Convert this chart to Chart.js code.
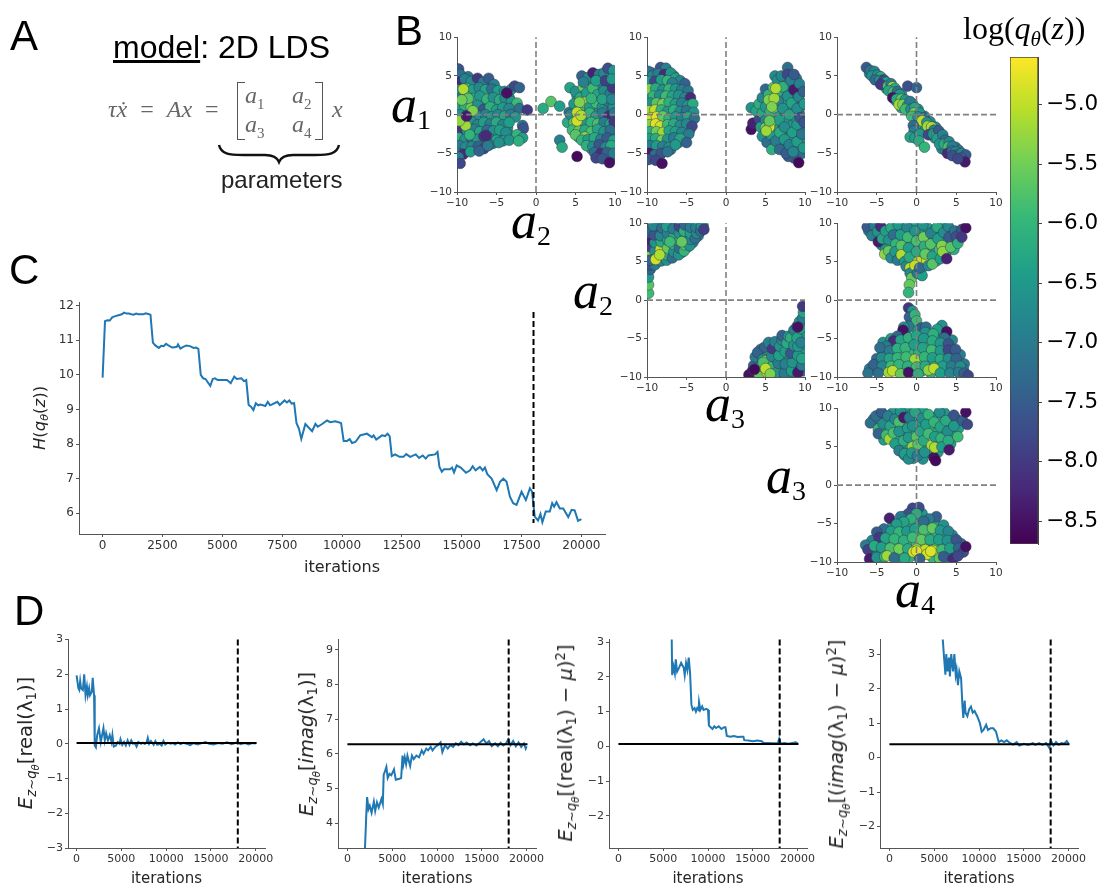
<!DOCTYPE html>
<html>
<head>
<meta charset="utf-8">
<title>2D LDS</title>
<script src="https://cdn.jsdelivr.net/npm/chart.js@4"></script>
<style>
  html, body { margin: 0; padding: 0; background: #fff; }
  #page { position: relative; width: 1102px; height: 886px; overflow: hidden; filter: blur(0.3px); }
  canvas { position: absolute; }
  .t { position: absolute; white-space: nowrap; line-height: 1; color: #000; }
  .letter { font: 42px/1 'Liberation Sans', sans-serif; }
  .sans { font-family: 'Liberation Sans', sans-serif; }
  .big { font: italic 52px/1 'Liberation Serif', serif; }
  .big span { font: 28px/1 'Liberation Serif', serif; position: relative; top: 7px; }
  .ylab { font-family: 'DejaVu Sans', sans-serif; color: #262626; transform: translate(-50%, -50%) rotate(-90deg); }
  .ylab sub { font-size: 68%; line-height: 0; vertical-align: -0.3em; }
  .ylab sub sub { font-size: 76%; }
  .ylab sup { font-size: 68%; line-height: 0; vertical-align: 0.55em; }
  .eq { font: 24px/1 'Liberation Serif', serif; color: #666; }
  .eq sub { font-size: 15px; line-height: 0; font-style: normal; }
</style>
</head>
<body>
<div id="page">
  <canvas id="s12"></canvas><canvas id="s13"></canvas><canvas id="s14"></canvas>
  <canvas id="s32"></canvas><canvas id="s42"></canvas><canvas id="s43"></canvas>
  <canvas id="cbar"></canvas><canvas id="entropy"></canvas>
  <canvas id="d1"></canvas><canvas id="d2"></canvas><canvas id="d3"></canvas><canvas id="d4"></canvas>

  <div class="t letter" style="left:10px;top:15px">A</div>
  <div class="t letter" style="left:395px;top:10px">B</div>
  <div class="t letter" style="left:9px;top:249px">C</div>
  <div class="t letter" style="left:14px;top:590px">D</div>

  <div class="t sans" style="left:113px;top:31px;font-size:32px"><u>model</u>: 2D LDS</div>
  <div class="t eq" style="left:108px;top:97px;word-spacing:7px"><i>τẋ</i> = <i>Ax</i> =</div>
  <div style="position:absolute;left:237px;top:82px;width:7px;height:56px;border:1px solid #555;border-right:0"></div>
  <div style="position:absolute;left:315px;top:82px;width:7px;height:56px;border:1px solid #555;border-left:0"></div>
  <div class="t eq" style="left:245px;top:83px"><i>a</i><sub>1</sub></div>
  <div class="t eq" style="left:292px;top:83px"><i>a</i><sub>2</sub></div>
  <div class="t eq" style="left:245px;top:112px"><i>a</i><sub>3</sub></div>
  <div class="t eq" style="left:292px;top:112px"><i>a</i><sub>4</sub></div>
  <div class="t eq" style="left:332px;top:97px"><i>x</i></div>
  <svg style="position:absolute;left:215px;top:142px" width="130" height="24">
    <path d="M4 3 C6 12 14 13 28 13 L50 13 C58 13 62 15 64 20 C66 15 70 13 78 13 L100 13 C114 13 122 12 124 3" fill="none" stroke="#111" stroke-width="2.4"/>
  </svg>
  <div class="t sans" style="left:221px;top:168px;font-size:24px;color:#222">parameters</div>

  <div class="t big" style="left:391px;top:79px"><i>a</i><span>1</span></div>
  <div class="t big" style="left:511px;top:195px"><i>a</i><span>2</span></div>
  <div class="t big" style="left:573px;top:265px"><i>a</i><span>2</span></div>
  <div class="t big" style="left:705px;top:378px"><i>a</i><span>3</span></div>
  <div class="t big" style="left:766px;top:450px"><i>a</i><span>3</span></div>
  <div class="t big" style="left:895px;top:564px"><i>a</i><span>4</span></div>

  <div class="t" style="left:963px;top:12px;font:32px/1 'Liberation Serif',serif">log(<i>q<sub style="font-size:21px;line-height:0">θ</sub></i>(<i>z</i>))</div>

  <div class="t ylab" style="left:40px;top:418px;font-size:16.5px"><i>H</i>(<i>q<sub>θ</sub></i>(<i>z</i>))</div>
  <div class="t ylab" style="left:26px;top:743px;font-size:19.5px"><i>E<sub>z∼q<sub>θ</sub></sub></i>[real(λ<sub>1</sub>)]</div>
  <div class="t ylab" style="left:307px;top:744px;font-size:19.5px"><i>E<sub>z∼q<sub>θ</sub></sub></i>[<i>imag</i>(λ<sub>1</sub>)]</div>
  <div class="t ylab" style="left:566px;top:743px;font-size:19.5px"><i>E<sub>z∼q<sub>θ</sub></sub></i>[(real(λ<sub>1</sub>) − <i>μ</i>)<sup>2</sup>]</div>
  <div class="t ylab" style="left:837px;top:744px;font-size:19.5px"><i>E<sub>z∼q<sub>θ</sub></sub></i>[(<i>imag</i>(λ<sub>1</sub>) − <i>μ</i>)<sup>2</sup>]</div>
</div>

<script>
// ===================== DATA =====================
const scatterTicks = [-10, -5, 0, 5, 10];
const zeroSpan = [-10, 10];
const cbarTicks = [-5, -5.5, -6, -6.5, -7, -7.5, -8, -8.5];
const cbarRange = [-8.69, -4.6];
const viridisStops = ['#440154','#482878','#3e4989','#31688e','#26828e','#1f9e89','#35b779','#6ece58','#b5de2b','#fde725'];

// samples: [x, y, log q]
const ptsA2A1 = [
[-9.4,4.9,-6.9],[-8.6,4.9,-7.1],[-7.9,3.9,-6.6],[-7,3,-6.5],[-6,3.8,-6.6],[-5.2,2.8,-6.3],[-4.4,2.5,-6.5],[-3.4,2.2,-6.4],[-9.4,2.8,-6.3],[-8.4,1.6,-6.2],[-7.5,1.7,-6.5],[-6.6,1.5,-6.1],[-5.6,1.6,-6.5],[-4.8,1.3,-6.3],[-3.8,1.4,-6.6],[-2.8,1.2,-6.7],[-9.2,0.5,-6.4],[-8.4,0.4,-6.5],[-7.6,0.5,-6.3],[-6.8,0.2,-6.8],[-6,0.4,-6.5],[-5.2,0.2,-6.3],[-4.4,0.3,-6.7],[-3.6,0.3,-6.5],[-2.8,0.5,-6.8],[-9.3,-0.6,-6.6],[-8.5,-0.5,-6.8],[-7.6,-0.6,-6.4],[-6.8,-0.6,-6.9],[-6,-0.7,-6.5],[-5.2,-0.6,-6.4],[-4.4,-0.6,-6.6],[-3.6,-0.5,-6.4],[-9.3,-1.6,-6.8],[-8.5,-1.5,-6.3],[-7.7,-1.6,-6.6],[-6.9,-1.6,-6.4],[-6,-1.6,-6.7],[-5.2,-1.6,-6.3],[-4.4,-1.6,-6.5],[-3.6,-1.7,-6.6],[-9.2,-2.6,-6.5],[-8.4,-2.6,-6.4],[-7.6,-2.6,-6.8],[-6.8,-2.5,-6.5],[-5.9,-2.6,-6.4],[-5,-2.7,-6.6],[-4.2,-2.8,-6.5],[-3.2,-2.7,-6.4],[-9.3,-3.6,-6.7],[-8.5,-3.7,-6.5],[-7.7,-3.6,-6.4],[-6.9,-3.6,-6.8],[-5.4,-3.7,-6.5],
[5.2,2.4,-6.4],[5.9,2.7,-6.5],[6.8,3.6,-6.6],[7.6,3.2,-6.8],[8.2,3.8,-6.9],[9,3.7,-7.1],[6.4,2,-6.3],[7.3,2.6,-6.4],[8,1.9,-6.6],[8.9,2.4,-6.8],[9.4,1.2,-6.7],[5,0.8,-6.3],[6,0.8,-6.1],[7.2,0.6,-6.3],[8,0.6,-6.5],[8.8,0.6,-6.7],[9.5,0.4,-7],[4.6,-0.6,-6.4],[5.6,-0.6,-6.2],[6.4,-0.6,-6.3],[7.2,-0.6,-6.4],[8,-0.7,-6.5],[8.9,-0.6,-6.7],[9.6,-0.6,-7.3],[5.1,-1.6,-6.1],[5.8,-1.6,-6.1],[6.6,-1.6,-6.2],[7.4,-1.6,-6.1],[8.2,-1.6,-6.6],[9,-1.7,-6.8],[9.7,-1.6,-7.1],[5.4,-2.9,-6.1],[7,-2.7,-6.3],[7.8,-2.6,-6.5],[8.6,-2.7,-6.6],[9.4,-2.6,-6.9],[6.8,-3.7,-6.3],[7.7,-3.6,-6.8],[8.4,-3.7,-7],[9.2,-3.7,-6.9],[7,-4.4,-6.4],[7.8,-4.5,-7],[8.6,-4.6,-7.2],[9.4,-4.6,-7.1],[9,-5.5,-7.7],[9.8,-5.6,-7.4],
[-9.8,5.9,-7.6],[-9.6,5.2,-7.2],[-9.7,4.2,-8.2],[-9,4.6,-6.9],[-8.2,4.3,-6.7],[-7.4,4.7,-8],[-6.7,4.2,-7],[-6,4.7,-7.5],[-5.3,3.9,-6.9],
[-9.8,3.2,-6.5],[-8.8,3.4,-6],[-8,3.2,-6.4],[-7.2,3.5,-6.8],[-6.4,3.2,-6.3],[-5.6,3.3,-7.2],[-4.8,3.1,-6.4],[-4,3,-6.7],[-3.1,3.3,-6.5],[-2.7,3.7,-7.8],[-2.1,3.5,-7.4],[-3.7,2.7,-8.6],
[-9.5,2.2,-7],[-8.7,2.3,-5.9],[-7.9,2.1,-6.2],[-7.1,2.4,-6.5],[-6.2,2,-6],[-5.4,2.2,-6.6],[-4.6,1.9,-6.2],[-3.9,2.1,-6.7],[-3.1,1.7,-6.5],[-2.4,1.5,-5.9],
[-9.8,1,-6.3],[-9,1.1,-6.1],[-8.2,0.9,-5.5],[-7.4,1.2,-6.6],[-6.6,0.7,-7.6],[-5.8,1,-6.1],[-5,0.6,-6.4],[-4.2,0.9,-6.5],[-3.4,0.8,-6.8],[-2.1,0.8,-7.2],[-1.1,0.6,-8],
[-9.6,0,-6.6],[-8.8,-0.1,-7.2],[-8,0.1,-6.3],[-7.2,-0.2,-6.7],[-6.4,0,-6.9],[-5.6,-0.3,-6.5],[-4.8,0,-6.8],[-4,-0.2,-6.3],[-3.2,0,-7],[-2.6,-0.3,-6.6],
[-9.8,-1,-7.5],[-9,-1.1,-5.4],[-8.2,-0.9,-6.6],[-7.4,-1.3,-6.8],[-6.6,-1,-6.4],[-5.8,-1.2,-6.9],[-5,-1,-6.2],[-4.2,-1.3,-6.8],[-3.4,-1,-6.4],[-1.7,-1.4,-7.2],[-1.6,-1.8,-7.6],
[-9.5,-2,-8],[-8.7,-2.1,-6.5],[-7.9,-1.9,-6.9],[-7.1,-2.2,-6.3],[-6.2,-2,-7.3],[-5.4,-2.1,-6.6],[-4.6,-2,-6.4],[-3.8,-2.3,-6.7],[-2.4,-2.6,-6],[-1.7,-3,-6.4],
[-9.8,-3,-6.1],[-9,-3.2,-6.6],[-8.2,-3,-7.2],[-7.4,-3.2,-6.5],[-6.6,-2.8,-8],[-5.8,-3.1,-7],[-5,-3.3,-6.3],[-4.2,-3.4,-6.5],[-3.4,-3.3,-6.6],[-2.2,-3.4,-6.1],
[-9.7,-4,-7],[-8.9,-4.2,-6.7],[-8.1,-4.1,-6.8],[-7.3,-4.1,-7.4],[-6.6,-4.4,-7.8],[-5.9,-3.9,-6.9],[-4.7,-3.6,-6.6],[-9.7,-5.1,-6.8],[-9.2,-5.1,-8.2],[-8.3,-4.8,-6.4],[-7.2,-4.7,-7.4],[-9.8,-5.5,-7],[-9.6,-6.3,-7.8],
[-9.2,3.3,-5.1],[-8.9,-1.4,-5.2],[-9.7,-0.8,-5.3],[-8.6,2.1,-5.7],[-8,0.5,-5.4],[-9.4,1.9,-5.5],[-8.4,-2.6,-6],[-6.1,-4,-7],[-3.7,2.8,-8.5],[-6.3,-2.7,-8.2],[-8.8,-0.2,-8.4],
[0.9,0.8,-6.2],[1.9,1.7,-5.7],[3,1.1,-6.4],[4.3,3.5,-6.3],[3,-3.3,-6.9],[3.3,-4.2,-6.2],[5.2,-5.4,-8.6],[4.2,0.3,-7.1],[4,-1,-6.2],
[5,3,-6.6],[5.6,2.2,-6.2],[6,3.6,-5.5],[6.4,2.8,-6.4],[7.2,3.4,-5.9],[7.8,2.6,-6.3],[8.6,3.1,-6.7],[9.4,2.7,-7],[9.7,3.5,-8],
[5.8,5,-7.4],[6.6,4.8,-6.7],[7.2,5.4,-8.3],[8,5.2,-7],[8.6,5.4,-6.8],[9.1,6,-7.7],[9.8,5.7,-6.6],[7.6,4.4,-6.4],[8.8,4.4,-7.9],[6,4.2,-6.9],[9.6,4.6,-6.5],
[4.8,1.4,-6.5],[5.6,1,-5.9],[6.2,1.6,-5.2],[6.8,1,-6.4],[7.6,1.5,-5.9],[8.4,1,-6.6],[9.2,1.6,-7.2],[9.8,1,-6.6],[5.5,1.6,-5.4],[7,2.1,-6],[8.4,2,-6.3],[9.6,2,-6.8],
[4.4,0,-6.8],[5.2,0.3,-5],[6,-0.2,-6.2],[6.8,0.2,-6],[7.6,-0.2,-6.5],[8.4,0.2,-7],[9.2,-0.2,-8.2],[9.9,0.2,-7.1],
[4.8,-1,-5.7],[5.4,-1,-4.9],[6.2,-1.2,-6.5],[7,-1,-6],[7.8,-1.2,-5.8],[8.6,-1,-7],[9.4,-1.2,-6.4],[9.9,-0.9,-8],
[4.6,-2,-5.9],[5.4,-2.1,-5.6],[6.2,-2,-6.2],[7,-2.2,-5.8],[7.8,-1.9,-6.3],[8.6,-2.2,-6.6],[9.4,-2,-7.2],[5,-2.6,-5.7],[6.2,-2.9,-5.3],
[5.8,-3.3,-6],[6.6,-3.2,-6.4],[7.4,-3,-6.2],[8.2,-3.2,-6.9],[9,-3,-7.5],[9.8,-3.3,-6.4],[6.4,-4,-6.1],[7.2,-4.1,-6.7],[8,-3.9,-7.6],[8.8,-4.2,-6.8],[9.5,-4,-6.2],
[7.4,-4.9,-7.2],[8.2,-5,-8.1],[9,-4.9,-7.4],[9.8,-5,-7],[7.6,-5.6,-7.8],[8.4,-5.7,-7.6],[9.3,-6.2,-8.5],[5.2,-0.8,-4.9],[5.7,-0.1,-5.1]
].map(([x,y,c]) => ({x,y,c}));

const ptsA3A1 = [
[-9.4,5.4,-6.9],[-8.9,4.8,-6.7],[-7.4,4.8,-6.5],[-6.6,5,-6.6],[-6,3.8,-6.5],[-5.4,3.6,-6.6],[-9.4,3.8,-6.3],[-8.5,3.8,-6.4],[-7.6,3.7,-6.3],[-6.8,3.6,-6.4],[-6,2.8,-6.5],[-5,2.7,-6.7],[-4.6,1.7,-6.6],[-9.6,2.6,-6.2],[-8.8,2.8,-6],[-8,2.8,-6.2],[-7.2,2.8,-6.3],[-6.4,2,-6.4],[-5.6,2,-6.5],[-5.1,1.7,-6.5],[-9,1.9,-5.9],[-8.2,1.9,-5.9],[-7.4,1.9,-6.2],[-6.8,1,-6.3],[-6,1,-6.5],[-5.2,0.9,-6.6],[-4.5,0.8,-6.7],[-9.4,1,-5.8],[-8.6,1,-5.8],[-7.8,1,-6],[-9.2,0.1,-5.5],[-8.4,0,-5.7],[-7.6,0.1,-6],[-6.8,0,-6.3],[-6,0,-6.5],[-5.2,0,-6.6],[-4.4,0,-6.6],[-9.2,-0.9,-5.4],[-8.5,-0.8,-5.4],[-7.7,-0.9,-5.8],[-6.9,-0.9,-6.2],[-6.1,-0.8,-6.5],[-5.3,-0.8,-6.7],[-4.5,-0.9,-6.9],[-9.2,-1.8,-5.7],[-8.4,-1.9,-5.5],[-7.6,-1.8,-6],[-6.8,-1.8,-6.3],[-6,-1.8,-6.5],[-5.2,-1.8,-6.7],[-4.6,-2,-6.9],[-9.2,-2.7,-6],[-8.4,-2.8,-5.9],[-7.6,-2.7,-6.3],[-6.8,-2.6,-6.5],[-6,-2.7,-6.5],[-5.3,-2.8,-6.8],[-9.2,-3.6,-6.5],[-8.4,-3.6,-6.4],[-7.6,-3.7,-6.6],[-6.9,-3.6,-6.7],[-6,-3.6,-6.6],[-9.3,-4.6,-7],[-8.6,-4.6,-6.9],[-7.8,-4.5,-7],[-7,-4.5,-7],
[4.6,1,-6.3],[4.8,-0.2,-6.5],[5.3,0.4,-6.2],[5.6,-0.4,-6.4],[5.2,-1,-6.2],[5.3,-2.8,-6.4],[5.6,-3.2,-6.6],[5.2,1.7,-6.2],[5.7,2.9,-6],[6.2,0.2,-6.2],[6.2,-0.6,-6.4],[6.4,-2,-6.3],[6.4,-3.9,-6.6],[6.8,0.4,-6.5],[7,1.6,-6.5],[7,-1.3,-6.5],[7,2.4,-6.4],[7,-3.2,-6.6],[7.2,-4.2,-6.9],[7.6,0.4,-6.4],[7.6,1.6,-6.4],[7.6,3.2,-6.5],[7.6,4.4,-6.8],[7.8,-0.9,-6.5],[7.8,-2.4,-6.5],[8,-3,-6.6],[8.4,0.6,-6.5],[8.4,-1.4,-6.5],[8.4,2.6,-6.5],[8.5,-3.2,-6.6],[8.8,-0.4,-6.6],[8.8,1.7,-6.6],[8.9,3.4,-6.8],[8.9,-2.3,-6.5],[8.9,4.7,-7],[9.2,-4.6,-6.8],[9.3,0.1,-6.8],[9.4,1,-6.7],[9.4,-1.7,-6.8],[9.5,3.1,-7],[9.5,-3.1,-6.7],[9.6,-5,-7.2],[8.6,-5.6,-7.5],[7.9,-5.4,-7.5],
[-9.8,5.6,-7.2],[-9.3,5,-6.8],[-8.3,6.1,-7.6],[-7.6,6,-6.9],[-8.6,5.3,-7],[-7.8,5.2,-8.2],[-7,5.4,-6.6],[-6.4,4.7,-6.3],[-5.8,4.4,-6.8],[-5.2,4,-7.4],[-9.8,4.3,-6.5],[-9,4.3,-7.8],[-8.2,4.5,-6.4],[-7.4,4.4,-6],[-6.8,4.1,-6.9],
[-9.7,3.3,-5.4],[-8.9,3.4,-6.2],[-8,3.2,-6.6],[-7.2,3.3,-6],[-6.4,3.3,-6.5],[-5.6,3.2,-6.9],[-4.8,3.1,-7.1],[-9.2,2.4,-6],[-8.4,2.5,-6.7],[-7.6,2.4,-5.9],[-6.8,2.4,-6.3],[-6,2.5,-6.6],[-5.2,2.2,-6.8],[-4.5,2.2,-8.2],
[-9.6,1.5,-6.6],[-8.8,1.5,-5.7],[-8,1.4,-5.5],[-7.2,1.6,-6.1],[-6.4,1.4,-6.4],[-5.6,1.5,-6.9],[-4.8,1.2,-6.5],[-4.2,1.4,-6.2],[-9.8,0.5,-5.2],[-9,0.6,-5],[-8.2,0.6,-6],[-7.4,0.4,-6.5],[-6.6,0.6,-6.1],[-5.8,0.4,-6.7],[-5,0.5,-7.1],[-4.1,0.3,-6.6],
[-9.5,-0.4,-4.9],[-8.8,-0.3,-4.8],[-8,-0.2,-5.6],[-7.2,-0.5,-6],[-6.4,-0.3,-6.5],[-5.6,-0.4,-6.9],[-4.8,-0.3,-6.3],[-4,-0.5,-7.2],[-9.7,-1.3,-5.4],[-8.9,-1.2,-4.8],[-8.3,-1.5,-4.9],[-7.4,-1.3,-5.9],[-6.6,-1.2,-6.2],[-5.8,-1.4,-6.7],[-5,-1.2,-6.8],[-4.3,-1.5,-7.8],
[-9.6,-2.2,-6.1],[-8.8,-2.2,-5.5],[-8,-2.3,-5.2],[-7.2,-2.1,-6.3],[-6.4,-2.2,-6.4],[-5.6,-2.3,-6.8],[-4.7,-2.5,-7],[-9.7,-3.1,-6.4],[-8.9,-3.1,-6.2],[-8.1,-3.3,-5.5],[-7.4,-3.2,-6.6],[-6.6,-3,-7],[-5.8,-3.1,-6.3],[-5,-3.6,-7.4],
[-9.6,-4,-7],[-8.8,-4,-6.5],[-8,-4.1,-6.9],[-7.2,-4.2,-6.7],[-6.4,-3.9,-6.5],[-9.7,-5,-8.4],[-9,-5.2,-7.2],[-8.2,-5,-7.6],[-7.4,-4.8,-7.1],[-9.8,-5.8,-7.6],[-8.9,-5.9,-7.8],[-8.1,-6.3,-8.5],
[3.2,0.9,-6.6],[3.2,-1.9,-8.5],[3.4,-1.1,-8.3],[3.8,0.5,-6.3],[4.2,1.4,-6.1],[4.2,-0.6,-7.8],[4.4,-1.6,-6.4],[4.6,2.2,-6.8],[4.6,0.2,-6.2],[4.6,-2.8,-6.6],[5,3.3,-7.3],[5,1,-6.5],[5,-0.7,-6.8],[5,-1.7,-5.5],[5.2,-3.6,-7.2],
[5.4,2.6,-6],[5.4,1.9,-5.4],[5.6,0.4,-6],[5.7,-2.6,-6.4],[5.8,-4.5,-6.1],[6,3.5,-5.7],[6,0.9,-5.4],[6,-1.4,-6.4],[6.2,5,-6.7],[6.3,-3.4,-7],[6.5,4.5,-6.7],[6.6,3,-6.2],[6.6,1.7,-6.8],[6.7,-0.7,-6.4],[6.8,-2.3,-6.2],[6.8,-4.5,-7.3],
[7,5,-6.8],[7.2,3.6,-6.1],[7.2,0.8,-6.6],[7.4,-1.6,-6.7],[7.4,-3.2,-6.5],[7.6,-5,-7.5],[7.8,6.1,-7.2],[7.8,5.2,-7.8],[7.8,2.4,-6.6],[8,0,-6.3],[8,-3.9,-6.9],[8.2,4.4,-6.9],[8.3,1.5,-6.3],[8.4,-2.3,-6.4],[8.5,-4.8,-6.8],[8.6,3.2,-8.4],[8.6,5.2,-7.5],
[9,0.8,-6.7],[9,-1.3,-6.5],[9,-3.5,-6.4],[9.2,-6.2,-8.6],[9.2,2.3,-6.8],[9.3,4,-6.9],[9.4,-0.4,-7.6],[9.6,-2.5,-7.1],[9.8,-4.3,-6.5],[9.8,3,-7.4],[9.9,1.4,-6.5],[9.9,-1,-7.6],
[5.6,-1.1,-5.1],[5.5,-1.6,-4.9],[5.1,-2.1,-5.2],[6.1,2.1,-5.2],[6.3,3.4,-5.1],[5.8,1,-5.4],[5.5,-0.8,-5.6]
].map(([x,y,c]) => ({x,y,c}));

const ptsA4A1 = [
[-5.9,5.3,-6.9],[-5.2,4.9,-6.8],[-4.8,4.6,-6.6],[-4.2,4,-6.4],[-3.8,3.4,-6.4],[-3.2,3.2,-6.3],[-2.6,2.5,-6.3],[-1.9,2.7,-6.4],[-1.5,1.5,-6.2],[-2.6,1.8,-6.4],[-1.9,0.9,-6.3],[-1,0.5,-6.4],[-0.5,1.4,-6.5],[0.2,0.7,-6.6],[0.5,-0.6,-6.5],[1,-0.2,-6.7],[0.8,-1.4,-6.4],[1.7,-0.9,-6.7],[1.1,-2,-6.6],[1.8,-2.1,-6.5],[2.4,-1.6,-6.8],[2.3,-3,-6.3],[3,-3.3,-6.2],[3.2,-4.4,-6.6],[3.6,-4.6,-6.7],[4.2,-4.9,-6.8],[4.9,-4.2,-6.9],[5.3,-4.6,-7.1],
[-6.3,6.1,-7.5],[-5.8,5.7,-7.1],[-5.3,5.6,-6.9],[-5.6,5,-6.6],[-4.9,5.1,-6.7],[-4.5,4.9,-6.2],[-5.2,4.5,-7.3],[-4.6,4.4,-6.6],[-4.1,4.5,-7.8],[-3.8,4.2,-6.4],[-4.5,3.9,-8],[-3.6,3.7,-5.8],[-3.2,4,-7],[-3,3.6,-5.2],[-2.7,3.4,-6.2],[-3.5,3.1,-6.3],[-2.9,2.9,-5.8],[-2.4,3,-7.2],[-2.1,2.6,-6.6],[-1.1,3.7,-7.7],[0,3.5,-7.4],
[-3,2.2,-8.5],[-2.5,2,-6.2],[-1.9,2,-5.7],[-1.4,1.9,-6.5],[-2.2,1.3,-5.2],[-1.7,1.3,-5.4],[-1.1,1.2,-6.3],[-0.8,1.7,-7],[-1.4,0.7,-5.9],[-0.7,0.7,-6.7],[-0.2,0.9,-6.3],[-0.3,0.2,-5.4],[0.4,0.2,-6.5],[-0.6,-0.2,-5.9],[0.2,-0.3,-6.6],[0.9,-0.4,-7.2],[0.7,-0.8,-5],
[-0.4,-1.4,-7.3],[-0.3,-2.1,-7],[-0.8,-2.9,-6.3],[-0.2,-3,-6.4],[0.4,-2.5,-6.5],[0.3,-3.4,-6.2],[1,-4.2,-6],
[1.3,-1,-6.6],[1.4,-1.5,-5.2],[1.9,-1.6,-5.1],[2.2,-2,-7],[1.5,-2.6,-7.8],[2.1,-2.5,-6.5],[2.6,-2.5,-5.9],[2.8,-2.1,-7.5],[3.1,-2.9,-5],[2.6,-3.1,-6.4],[3.3,-2.6,-6.9],[3.6,-3.3,-7.2],[2.9,-3.8,-6.6],[3.5,-3.8,-6.2],[4.1,-3.5,-6.8],[4,-4.2,-5.8],[4.5,-4.1,-6.9],
[3.9,-5,-8.2],[4.5,-4.7,-7.2],[4.9,-4.8,-6.9],[5.2,-5.2,-7.3],[5.7,-5,-6.8],[6.2,-5.2,-7.5],[4.5,-5.3,-7.7],[5.6,-5.6,-7.4],[6.1,-6.1,-8.4],[5.2,-5.7,-7.8]
].map(([x,y,c]) => ({x,y,c}));

const ptsA3A2 = [
[-9.4,5.7,-6.3],[-9.4,6.9,-6.6],[-9.4,8,-7],[-9.4,9,-7],[-8.6,6,-6.2],[-8.6,7,-6.4],[-8.6,8,-6.6],[-8.6,9,-6.8],[-8.6,9.8,-6.7],[-7.8,5.5,-6.4],[-7.8,6.4,-6.2],[-7.8,7.3,-6.3],[-7.8,8.2,-6.5],[-7.8,9.2,-6.7],[-7,6,-6.5],[-7,7,-6.4],[-7,8,-6.4],[-7,9,-6.6],[-7,9.8,-6.9],[-6.2,6.4,-6.4],[-6.2,7.3,-6.3],[-6.2,8.2,-6.4],[-6.2,9.2,-6.7],[-5.6,6.2,-6.4],[-5.6,7,-6.3],[-5.6,8.3,-6.4],[-5.5,9.2,-6.6],[-4.9,6.9,-6.4],[-4.9,7.6,-6.4],[-4.9,8.5,-6.5],[-4.9,9.4,-6.8],[-4.2,7.5,-6.7],[-4.2,8.3,-6.7],[-4.2,9.1,-6.7],[-3.5,8.4,-6.9],[-3.5,9.2,-6.9],[-2.9,9.7,-7],
[3.3,-9.7,-7.4],[4,-7.6,-6.9],[4,-8.6,-6.8],[4.4,-6.4,-7.1],[4.4,-7.2,-6.7],[4.7,-9.4,-6.2],[5.2,-6.7,-6.7],[5.3,-7.3,-6.4],[5.6,-6,-6.8],[5.9,-8,-6.2],[6,-9.5,-6.1],[6.2,-6.6,-6.6],[6.2,-7.6,-6.4],[6.3,-8.8,-6.4],[6.7,-5.5,-6.8],[6.9,-6.7,-6.5],[7,-8.6,-6.7],[7,-9.7,-6.8],[7.2,-7.4,-6.4],[7.4,-5.9,-6.4],[7.8,-7.4,-6.6],[7.9,-6.1,-6.4],[7.9,-8.8,-6.8],[8,-9.7,-6.9],[8.3,-5.6,-6.4],[8.6,-7.6,-6.7],[8.8,-8.6,-6.7],[8.8,-6.4,-6.5],[8.6,-4.6,-6.6],[9.2,-8,-6.6],[9.2,-5,-6.5],[9.4,-6.3,-6.5],[9.4,-4.4,-6.5],[9.7,-9.2,-7],[9.7,-6.6,-6.5],[9.8,-3.4,-6.5],[9.8,-4.8,-6.6],[9.6,-7,-6.5],
[-9.8,0.9,-5.9],[-9.8,2,-5.7],[-9.8,3,-6.5],[-9.6,4,-7.4],[-9.7,4.6,-7.6],[-9.8,5.4,-5.8],[-9.7,6.2,-5.4],[-9.7,7,-7.9],[-9.8,7.9,-8.3],[-9.8,8.8,-7.4],[-9,4.6,-7],[-9,5.4,-5],[-9,6.4,-6.7],[-9,7.5,-6.6],[-9.1,8.5,-7.6],[-9.2,9.7,-6.8],
[-8.2,5.1,-6.9],[-8.2,5.8,-5.5],[-8.3,6.6,-5],[-8.2,7.6,-6.2],[-8.3,8.4,-6.8],[-8.1,9.4,-7.2],[-7.5,5.2,-6.6],[-7.5,5.9,-6.1],[-7.4,6.8,-5.6],[-7.4,7.8,-6.4],[-7.4,8.7,-6.9],[-7.5,9.6,-6.4],[-6.8,5.5,-7.2],[-6.6,6.3,-6.7],[-6.7,7.3,-6],[-6.6,8.3,-6.2],[-6.7,9.3,-7],
[-6,5.9,-6.6],[-5.9,6.8,-7.2],[-5.9,7.7,-6.2],[-5.9,8.7,-6.6],[-5.9,9.6,-7.8],[-5.3,6.4,-6],[-5.2,7.2,-5.7],[-5.2,8.1,-6.4],[-5.3,9,-6.1],[-5.2,9.8,-7.3],[-4.6,7.1,-6.6],[-4.5,7.9,-6.8],[-4.5,8.7,-6.4],[-4.5,9.5,-7],[-3.9,8,-7.2],[-3.7,8.7,-6.8],[-3.8,9.5,-6.9],[-3.2,9,-7.2],[-3.1,9.6,-6.6],[-2.8,9.2,-7.9],
[-9.6,5.2,-7.4],[-8.9,5.3,-4.9],[-8.4,5.9,-5.1],[-7.1,7.6,-5.9],[-5.6,7.6,-5.6],
[2.9,-9.7,-8.5],[3.4,-9.1,-8.4],[3.5,-8.5,-7.4],[3.7,-7.4,-7],[4,-6.8,-7.4],[4.2,-9.7,-5.6],[4.5,-8.6,-6.2],[4.7,-7.7,-6.6],[4.9,-6.1,-7.4],[5.4,-5.5,-6.9],[5.2,-9.4,-5.1],[5,-7.9,-5.3],
[5.7,-8.7,-6],[5.8,-7.3,-6.8],[5.9,-6.3,-8],[6.2,-5.4,-6.9],[6.4,-9.4,-6.6],[6.6,-8.2,-7],[6.7,-7.2,-6.4],[6.8,-6,-6.6],[7.1,-5.2,-6.8],[7.1,-4.6,-7.4],[7.4,-9.5,-7],[7.5,-8.3,-6.9],[7.5,-6.7,-6.4],[7.7,-5.6,-6.2],[7.9,-4.7,-6.6],[8.2,-4.9,-6.1],[8.3,-9.2,-6.4],[8.4,-8.1,-6.6],[8.2,-6.9,-7.6],[8.6,-5.9,-6.6],[8.6,-3.9,-6.9],[9,-3.4,-7.7],[9.1,-9.4,-8.4],[9.1,-7.2,-6.5],[9.1,-6,-6.5],[9,-4.9,-6.3],[9.6,-8.5,-7],[9.6,-7.6,-6.3],[9.5,-5.5,-6.9],[9.4,-3.7,-6.3],[9.3,-2.8,-6.6],[9.7,-2.3,-6.9],[9.8,-1.6,-6.3],[9.7,-0.8,-8],[9.1,-3.5,-8.5],
[4.7,-8.1,-5.8],[5,-8.9,-5],[5.6,-9.6,-5.4],[3.6,-9,-8.6]
].map(([x,y,c]) => ({x,y,c}));

const ptsA4A2 = [
[-6,9,-6.8],[-5.2,8.5,-6.6],[-5.2,9.2,-6.5],[-4.4,8.7,-6.3],[-4.4,7.2,-6.6],[-3.8,7.2,-6.4],[-3.4,8.4,-6.3],[-3,7,-6.2],[-3.2,6.1,-6.3],[-2.6,9,-6.3],[-2.4,8,-6.2],[-2.2,6.6,-6.2],[-2,5.4,-6.2],[-1.6,9,-6.3],[-1.5,7.6,-6.2],[-1.5,6.4,-6.2],[-1.2,5.6,-6.2],[-0.6,8.6,-6.4],[-0.5,7.2,-6.2],[-0.5,6,-6.1],[-0.4,9.8,-6.4],[0.4,8.6,-6.2],[0.5,7.3,-6.2],[0.5,6.2,-6],[0.8,4.3,-6.2],[1.4,9.4,-6.4],[1.5,8,-6.2],[1.6,6.2,-6.1],[2.2,9,-6.3],[2.3,7.6,-6.1],[2.5,6.2,-6.2],[2.5,5.1,-6.3],[3.1,8.4,-6.4],[3.2,9.6,-6.4],[3.7,7.4,-6.2],[3.7,6.2,-6.2],[4.4,8.8,-6.6],[4.6,7.6,-6.2],[4.7,6.6,-6.1],[5.3,8.8,-6.8],
[-0.6,-2.9,-6.6],[-1.4,-4.2,-6.5],[-0.3,-3.5,-6.4],[0.5,-4.4,-6.3],[-0.4,-5.2,-6.2],[0.4,-5.4,-6.2],[1.5,-4.8,-6.3],[1.5,-5.8,-6.1],[2.6,-4.9,-6.3],[2.6,-6,-6.2],[3.4,-4.2,-6.3],[3.6,-6.2,-6.4],[4.5,-5.2,-6.8],[-2.9,-5.9,-6.3],[-1.9,-5.7,-6.2],[-0.9,-5.6,-6.2],[-4.2,-5.5,-6.6],[-3.2,-5,-6.4],[-4.2,-6.9,-6.5],[-3,-7,-6.2],[-1.9,-6.9,-6],[-0.8,-6.9,-6],[0.3,-6.8,-6.1],[1.4,-6.9,-6.1],[2.5,-7,-6.2],[3.5,-7,-6.4],[4.5,-7,-6.6],[5.5,-7.1,-7],[-4.8,-8.1,-6.6],[-3.8,-8,-6.3],[-2.7,-8,-6],[-1.7,-8,-6],[-0.6,-8,-6],[0.5,-8,-6],[1.6,-8,-6.1],[2.7,-8.1,-6.2],[3.8,-8.1,-6.4],[4.8,-8.1,-6.7],[6,-8.3,-7],[-5.9,-8.9,-7],[-4.9,-9,-6.6],[-3.8,-9.1,-6.3],[-2.7,-9,-6.1],[-1.6,-9.1,-6.1],[-0.5,-9.2,-6],[0.7,-9.2,-6],[1.8,-9.5,-6.1],[3.6,-9,-6.5],[4.8,-9.1,-6.8],[5.9,-9,-7],
[-6.2,9.5,-7.5],[-5.6,8.4,-6.9],[-5.3,9.7,-7],[-4.9,8.9,-6.6],[-4.8,7.6,-8.4],[-4.3,8,-6.3],[-4.5,9.6,-8.2],[-3.9,9,-6.4],[-3.5,7.8,-6.6],[-3.9,6.6,-6.6],[-4,6,-5.3],[-3.5,6.4,-5.6],[-3.2,5.5,-6.7],[-3.2,9.4,-6.2],[-2.9,8.5,-7.2],[-2.6,7.3,-6],[-2.7,6.3,-6.5],[-2.4,5.2,-7],[-2.3,9.8,-6.5],[-2,8.5,-6.4],
[-1.9,7.1,-5.7],[-1.9,5.9,-5.1],[-1.5,5,-6.5],[-1.3,4.4,-6.8],[-1.2,9.5,-6.8],[-1.1,8.2,-5.9],[-1,6.8,-6.4],[-0.9,5.6,-6.2],[-0.8,4.2,-5],[-0.8,3.5,-6.8],[-0.6,2.9,-5.6],[-0.9,2,-5.6],[-1,1,-6],[-0.2,9,-6.6],[0,7.7,-5.8],[0,6.3,-6.2],
[0.2,5,-5],[-0.2,4.5,-5],[0.1,3.5,-7.1],[0.7,3.2,-6.4],[0.4,4.2,-7.3],[0.8,9.8,-6.6],[0.9,8.2,-5.5],[1,7,-6.1],[1.3,5.2,-4.9],[1.1,6,-5.6],[1.5,4.5,-6.7],[1.8,8.7,-6.9],[1.8,7.3,-5.7],[2,5.7,-6.3],[2,4.7,-5.7],[2.6,9.5,-6.2],[2.7,8,-6.4],[2.9,6.6,-5.9],[3,5.4,-6.4],
[3.2,7.1,-5.4],[3.3,6.3,-5.3],[3.4,8.8,-6.7],[3.8,5.4,-8.3],[4,9.6,-6.8],[4.1,8.2,-7.5],[4.3,6.9,-5.7],[4.8,9,-7.1],[5,8.3,-7.7],[5.2,7.4,-6.1],[5.7,9.2,-7.6],[6.2,9.4,-8.5],[5.7,8.2,-8],
[-1,-1,-8],[-0.5,-1.4,-6.6],[-0.9,-2.2,-7.4],[-0.2,-1.9,-6],[0,-2.7,-5.9],[-1,-3.4,-7],[-1.6,-3.5,-6.6],[-1.7,-3.9,-8.5],[0.6,-3.6,-7.5],[1.2,-3.5,-7.2],[1.1,-4.2,-6.6],[3.2,-3.3,-6.6],[2.6,-3.8,-6.4],[2.1,-4.4,-6.1],[3.8,-4.1,-8.5],[3.5,-4.9,-7.2],
[-2.4,-4.7,-7.3],[-2.9,-5.3,-8.2],[-2,-5.2,-6.3],[-1,-4.9,-6.1],[0,-4.6,-6.3],[0.9,-5,-6.5],[2,-5.3,-6.2],[3,-5.6,-6.5],[4,-5.7,-7.6],[-3.8,-6,-7],[-4.6,-6.2,-7.2],[-3.4,-6.6,-7],[-2.4,-6.3,-6.1],[-1.4,-6.2,-6],[-0.3,-5.8,-6.4],[0.8,-6.2,-6.3],[1.9,-6.5,-5.9],[3,-6.6,-6.5],[4,-6.5,-7.8],[4.9,-6.4,-7.5],
[-5,-7.6,-7.2],[-4.4,-7.5,-6.7],[-3.4,-7.6,-6.3],[-2.4,-7.5,-6],[-1.3,-7.4,-5.9],[-0.2,-7.7,-5.2],[1,-7.4,-6],[2,-7.5,-6.4],[3,-7.7,-6.2],[4,-7.6,-6.7],[5,-7.6,-7.4],[-5.4,-8.4,-7.4],[-4.3,-8.6,-6.8],[-3.2,-8.6,-5.9],[-2.2,-8.4,-6],[-1.1,-8.6,-6.1],[0,-8.7,-5.9],[1.1,-8.6,-6.2],[2.2,-8.7,-6],[3.3,-8.6,-6.4],[4.4,-8.6,-7],[5.5,-8.6,-6.7],
[-6.1,-9.5,-7.1],[-4.8,-9.5,-7.2],[-3.5,-9.4,-5.2],[-3,-9.2,-5],[-2,-9.6,-5.6],[-1,-9.4,-8.5],[0.2,-9.6,-6.1],[1.5,-9.1,-5.3],[2.2,-8.9,-5],[3,-9.5,-6.4],[4.2,-9.5,-6.8],[5.3,-9.4,-7],[6,-9.5,-7.4],[6.5,-9.8,-7.8]
].map(([x,y,c]) => ({x,y,c}));

const ptsA4A3 = [
[-5.4,8.6,-6.8],[-4.6,8.6,-6.6],[-3.8,8.4,-6.4],[-4.4,7,-6.4],[-3.6,7.4,-6.3],[-4.1,5.9,-6.4],[-3,8.2,-6.3],[-3,9.4,-6.5],[-2.6,7.4,-6.2],[-2.4,6.2,-6.2],[-1.9,7.6,-6.2],[-1.8,5,-6.2],[-1.7,4.2,-6.4],[-1.5,6.6,-6.2],[-1.4,8,-6.3],[-1.4,9.7,-6.5],[-0.8,6.8,-6.2],[-0.8,5.4,-6],[-0.6,9.2,-6.4],[-0.3,6,-6],[-0.2,8.3,-6.3],[0,4.5,-6.2],[0.4,8,-6.3],[0.6,4.8,-6.1],[0.6,6,-6],[0.8,9.6,-6.4],[1.2,5.2,-6],[1.2,6.8,-6.1],[1.6,8.4,-6.3],[1.7,4.2,-6.4],[1.9,7.4,-6.1],[2.6,9,-6.4],[2.7,7,-6.2],[2.8,5.6,-6.1],[2.7,4.3,-6.4],[3.5,7.4,-6.2],[3.5,9.4,-6.5],[3.6,6,-6.2],[4.3,8,-6.4],[4.4,6.6,-6.3],[4.3,5.4,-6.4],[5,8.6,-6.8],[5.3,7.4,-6.4],[-0.4,3.5,-6.6],[0.8,3.4,-6.6],[-1.5,3.9,-6.6],
[-0.2,-3.2,-6.8],[-1.6,-4.1,-6.5],[0.7,-3.7,-6.5],[-0.2,-5,-6.2],[-1.2,-5.4,-6.2],[-2.2,-5.4,-6.3],[-3,-5.3,-6.4],[0.5,-5.2,-6.2],[1.5,-5.1,-6.2],[2.3,-5,-6.3],[3.4,-5.2,-6.6],[-3.6,-6.4,-6.3],[-2.6,-6.6,-6.1],[-1.7,-6.6,-6.1],[-0.7,-6.4,-6],[0.3,-6.4,-6],[1.4,-6.4,-6],[2.4,-6.4,-6.1],[3.4,-6.5,-6.3],[4.5,-6.5,-6.7],[-5.6,-7.2,-6.8],[-4.4,-7.4,-6.4],[-3.3,-7.5,-6.1],[-2.2,-7.6,-6],[-1,-7.6,-5.9],[0,-7.5,-5.8],[1.2,-7.7,-5.7],[2.3,-7.7,-5.9],[3.4,-7.7,-6.2],[4.5,-7.6,-6.5],[5.6,-7.6,-7.2],[-5.2,-8.6,-6.6],[-3.8,-8.7,-6.2],[-2.7,-8.8,-6],[-1.6,-8.8,-5.9],[3.6,-8.6,-6.2],[4.7,-8.8,-6.6],[-5.4,-9.2,-6.8],[-4.4,-9.7,-6.4],[-2,-9.3,-6],[-0.9,-9.4,-6],[2,-9.4,-6],[4,-9.4,-6.6],
[-5.8,8.1,-7.2],[-5.1,9,-7.2],[-4.4,9.5,-7.5],[-4.8,7.3,-6],[-4.8,6.7,-7.4],[-4.2,8,-6.7],[-3.6,9,-6.9],[-3.3,7.7,-6.3],[-3.8,6.5,-5.9],[-3.4,6,-5.2],[-2.9,6.8,-5.8],[-2.7,8.6,-6.8],[-2.2,8.2,-5.8],[-2.2,7,-6.6],[-2.7,5.4,-6.4],[-2.2,4.5,-6.9],[-2,9.6,-6.6],[-1.6,8.8,-8.4],[-1.6,5.8,-6.1],[-1.5,4.1,-6.4],[-1,3.4,-6.7],[-1.1,7.4,-6.4],[-1,6.2,-6.5],
[-0.9,8.8,-7],[-0.5,5,-5.3],[-0.6,4.2,-6.5],[-0.5,7.7,-6.6],[-0.2,9.5,-6.3],[0,6.3,-5.7],[0.1,3.8,-7],[0.2,5.3,-5.7],[0.5,7,-6.3],[0.7,8.7,-6.7],[0.9,5.8,-6.2],[1,4.3,-6.6],[1.2,7.9,-6.4],[1.5,9.2,-6],[1.5,6.7,-5.9],[1.9,5.2,-5.2],[2.2,3.6,-8.5],[2.4,3.2,-8.6],[2.2,8.2,-6],[2.3,6.3,-6.4],[2.3,4.9,-5.1],
[2.9,9.5,-6.7],[3,7.6,-6.3],[3.1,6.1,-6],[3.2,5,-6.4],[3.7,8.4,-6.2],[3.9,7,-6.7],[4,5.8,-6.2],[4.1,4.6,-8.4],[4.7,9.1,-7.6],[4.7,7.7,-6.5],[5.2,6.3,-5.9],[5.8,8.4,-7.4],[6.2,9.5,-8.5],[6.4,7.9,-7.8],
[0.3,-2.9,-7.7],[-0.5,-3,-7.8],[-1,-3.7,-7.7],[0,-3.7,-6.2],[-2,-4.1,-7],[-3.4,-4.3,-8.3],[2.5,-4.1,-7.4],[1.6,-4.4,-7],[0.9,-4.7,-7.3],[-0.7,-4.4,-6.1],[-1.6,-4.8,-6.3],[-2.5,-5.1,-6.4],
[-4.1,-5.7,-7.2],[-5,-6.1,-7.5],[-3.2,-6,-6.4],[-2.2,-6.1,-6],[-1.2,-6,-6.5],[-0.2,-5.7,-6.4],[0.9,-5.8,-5.8],[2,-5.6,-5.6],[3,-5.9,-6.5],[4,-6,-6.8],[-4.7,-6.8,-8],[-3.9,-6.9,-6.3],[-2.8,-7,-6],[-1.6,-7.2,-6.1],[-0.5,-6.8,-5.9],[0.6,-7.1,-5.6],[1.7,-7.1,-6.2],[2.8,-7.1,-6.4],[3.9,-7.2,-6.6],[5,-7.1,-7.6],
[-6.4,-7.8,-7],[-6.1,-8.4,-7.9],[-5.3,-7.9,-6.2],[-4.4,-8.1,-6.4],[-3.3,-8.2,-5.8],[-2.2,-8.3,-5.5],[-1.1,-8.3,-6.2],[0,-8.3,-5.3],[1.1,-8.4,-5],[2.1,-8.5,-5],[3.2,-8.4,-5.9],[4.2,-8.2,-6.4],[5.3,-8.2,-7.4],[5.9,-8.7,-7.7],[6.2,-8,-8.5],
[-5.9,-9.6,-8.4],[-5,-9.4,-6.6],[-4,-9.3,-6],[-3.7,-9.2,-5.2],[-2.8,-9.5,-7.2],[-1.5,-9.5,-6.2],[-0.4,-8.7,-4.9],[0,-8.6,-4.8],[1.3,-9,-4.9],[1.8,-8.6,-4.8],[0.4,-9.6,-7.4],[2.9,-9.5,-5.6],[3.4,-9.3,-7.5],[4.6,-9.6,-8.2],[5.2,-9.2,-7.8]
].map(([x,y,c]) => ({x,y,c}));

// panel C
const entropyIters = [0,100,200,300,400,500,700,800,900,1000,1100,1200,1300,1400,1500,1600,1700,1800,1900,2000,2100,2200,2350,2450,2550,2650,2750,2900,3000,3100,3150,3250,3350,3500,3650,3800,3900,4000,4100,4200,4300,4400,4500,4600,4700,4800,4900,5000,5200,5350,5500,5600,5800,5900,6000,6100,6200,6300,6400,6500,6600,6800,6900,7000,7300,7400,7600,7700,7800,7900,8000,8100,8200,8300,8470,8750,8890,8985,9170,9375,9510,9720,9960,10070,10210,10320,10420,10560,10760,11040,11250,11320,11430,11670,11800,11900,11990,12080,12220,12400,12570,12680,12850,13080,13220,13375,13500,13610,13890,13990,14070,14170,14260,14510,14600,14680,14790,14960,15180,15350,15460,15580,15760,15875,15970,16070,16250,16460,16600,16740,16875,17015,17150,17290,17500,17680,17850,17940,18050,18190,18290,18370,18510,18680,18780,18860,18960,19100,19240,19450,19590,19720,19860,20000];
const entropyVals = [9.92,11.55,11.58,11.57,11.66,11.69,11.73,11.75,11.8,11.77,11.77,11.75,11.74,11.77,11.75,11.75,11.75,11.78,11.76,11.74,10.93,10.85,10.78,10.84,10.83,10.9,10.85,10.79,10.8,10.81,10.88,10.76,10.8,10.85,10.83,10.78,10.79,10.75,10,9.9,9.88,9.78,9.68,9.88,9.9,9.85,9.85,9.85,9.85,9.76,9.95,9.88,9.9,9.82,9.85,9.13,9.08,8.98,9.18,9.12,9.14,9.1,9.22,9.12,9.22,9.13,9.26,9.2,9.26,9.17,9.18,8.6,8.45,8.15,8.58,8.37,8.58,8.5,8.58,8.68,8.63,8.66,8.61,8.09,8.09,8.14,8.03,8.06,8.25,8.3,8.2,8.25,8.13,8.25,8.23,8.3,8.23,7.65,7.7,7.63,7.63,7.71,7.63,7.7,7.6,7.67,7.58,7.67,7.7,7.77,7.34,7.2,7.27,7.27,7.32,7.18,7.38,7.32,7.17,7.24,7.36,7.24,7.34,7.24,7.32,7.13,7,6.67,6.91,7,6.91,6.48,6.29,6.24,6.62,6.38,6.72,6.62,5.9,5.79,5.98,5.74,6.05,6.05,6.29,6.19,6.32,6.14,6.14,5.89,6.1,6.08,5.78,5.83];
const entropyTicksX = [0,2500,5000,7500,10000,12500,15000,17500,20000];
const entropyTicksY = [6,7,8,9,10,11,12];
const entropyStop = [[18000,11.82],[18000,5.72]];

// panel D
const dTicksX = [0,5000,10000,15000,20000];
const realIters = [0,200,300,400,500,700,850,1000,1150,1250,1400,1500,1700,1800,1950,2000,2050,2150,2300,2500,2700,3000,3150,3300,3500,3700,3900,4000,4150,4400,4600,4800,4900,5100,5300,5500,5700,5900,6100,6300,6500,6700,6900,7200,7400,7600,7800,7950,8100,8300,8600,8800,9000,9300,9500,9700,9900,10200,10500,10800,11000,11300,11600,11900,12300,12700,13000,13500,14000,14400,14800,15300,15800,16300,16800,17300,17800,18000,18300,18800,19200,19600,20000];
const realVals = [1.97,1.6,1.55,1.8,1.6,1.55,2,1.4,1.65,1.4,1.6,1.4,1.5,1.9,1.4,1.2,-0.05,-0.1,0.25,0.45,0.05,0.45,0.1,0.3,0.1,0.25,0.05,0.25,-0.08,-0.05,0.05,0,0.13,-0.03,0.05,-0.05,0.1,-0.03,0.1,0,0.02,-0.08,0.05,0,0.03,0,0.02,0.17,0,0.08,-0.03,0.08,-0.03,0,-0.05,0.08,-0.02,0.03,0,0.02,-0.02,0.04,-0.01,0.03,0,-0.04,0.02,-0.02,0.02,0.05,0,-0.02,0.02,0,0.04,-0.01,0.03,0.05,-0.01,0.02,-0.02,0.02,0.01];
const imagIters = [1950,2100,2200,2350,2500,2700,2950,3100,3300,3500,3800,3950,4050,4200,4350,4500,4700,4900,5200,5400,5800,6000,6150,6250,6400,6550,6700,7000,7200,7400,7700,8000,8300,8500,8800,9000,9300,9500,9800,10100,10400,10600,10900,11200,11500,11800,12100,12400,12700,13000,13300,13700,14000,14400,14800,15200,15500,15800,16100,16500,16800,17100,17400,17700,17950,18200,18500,18800,19100,19400,19700,19900,20000];
const imagVals = [3.2,4.2,4.75,4.4,4.5,4.3,4.62,4.35,4.6,4.45,4.7,4.55,5.4,5.5,5.62,5.3,5.42,5.38,5.55,5.25,5.28,5.3,5.95,5.7,5.9,5.7,5.95,5.65,5.95,5.85,5.95,5.9,6.1,6,6.15,6.1,6.2,6.1,6.2,6.25,6.33,6.05,6.25,6.15,6.25,6.2,6.3,6.25,6.35,6.27,6.33,6.25,6.3,6.24,6.33,6.42,6.3,6.37,6.22,6.3,6.22,6.32,6.24,6.3,6.42,6.25,6.37,6.22,6.33,6.2,6.3,6.15,6.22];
const realVarIters = [5950,6000,6150,6300,6400,6550,6750,7000,7300,7400,7550,7700,7850,8000,8150,8300,8500,8650,8800,8950,9000,9150,9350,9500,9800,10000,10100,10300,10500,10700,10900,11200,11500,11800,11950,12100,12500,12900,13300,13700,13950,14050,14500,15000,15500,16000,16200,16700,17200,17800,17950,18100,18500,19000,19400,19800,20000];
const realVarVals = [3.1,2.05,2.3,2.1,2.5,2.15,2.25,2.4,2.25,2.05,2.4,2.2,2.55,2.1,1.2,1.05,1.1,1,1.1,1.05,1.28,1.05,1.15,1.05,1.08,1.05,0.6,0.55,0.5,0.58,0.53,0.58,0.5,0.55,0.55,0.3,0.28,0.3,0.27,0.28,0.28,0.18,0.17,0.15,0.17,0.15,0.1,0.1,0.09,0.1,0.22,0.08,0.1,0.08,0.1,0.12,0.09];
const imagVarIters = [5950,6100,6250,6350,6500,6650,6750,6900,7100,7250,7400,7500,7650,7800,8000,8150,8250,8400,8500,8700,8900,9100,9300,9500,9800,10100,10300,10500,10800,11000,11300,11600,11900,12200,12500,12800,13100,13400,13800,14200,14500,15000,15500,16000,16300,16700,17100,17500,17850,18000,18300,18600,18900,19200,19500,19800,20000];
const imagVarVals = [3.45,2.9,2.4,3,2.5,2.9,2.35,3,2.5,3,2.4,2.55,2.1,2.5,2.3,1.5,1.15,1.65,1.3,1.2,1.4,1.48,1.3,1.35,1.2,1,0.75,0.8,0.95,0.8,0.85,0.85,0.75,0.45,0.5,0.45,0.5,0.43,0.38,0.45,0.35,0.4,0.37,0.42,0.37,0.42,0.37,0.42,0.28,0.5,0.35,0.45,0.37,0.42,0.4,0.48,0.4];

// ===================== HELPERS =====================
const AXIS = '#555';
const TICK_TEXT = '#333';
const LINE_BLUE = '#1f77b4';

function viridis(v) {
  const t = Math.min(1, Math.max(0, (v - cbarRange[0]) / (cbarRange[1] - cbarRange[0]))) * (viridisStops.length - 1);
  const i = Math.min(viridisStops.length - 2, Math.floor(t));
  const f = t - i;
  const rgb = h => [1, 3, 5].map(k => parseInt(h.substr(k, 2), 16));
  const a = rgb(viridisStops[i]), b = rgb(viridisStops[i + 1]);
  return `rgb(${a.map((c, k) => Math.round(c + (b[k] - c) * f)).join(',')})`;
}

const fmtTick = v => String(v).replace('-', '\u2212');

function axis(min, max, ticks, fontSize, fixed, title) {
  const vertical = fixed.w !== undefined;
  const cfg = {
    type: 'linear',
    min, max,
    afterBuildTicks: s => { s.ticks = ticks.map(value => ({ value })); },
    afterFit: s => { if (vertical) s.width = fixed.w; else s.height = fixed.h; },
    border: { display: true, color: AXIS, width: 1 },
    grid: { drawOnChartArea: false, drawTicks: true, tickLength: 3, tickColor: AXIS },
    ticks: {
      autoSkip: false, maxRotation: 0, padding: 2, color: TICK_TEXT,
      font: { family: "'DejaVu Sans'", size: fontSize },
      callback: fmtTick,
    },
  };
  if (title) {
    cfg.title = { display: true, text: title.text, color: '#262626', padding: 0, font: { family: "'DejaVu Sans'", size: title.size } };
  }
  return cfg;
}

// canvas placed so that the plot area lands on the given box
function place(id, box, m) {
  const c = document.getElementById(id);
  c.width = box.r - box.l + m.l + m.r;
  c.height = box.b - box.t + m.t + m.b;
  c.style.left = (box.l - m.l) + 'px';
  c.style.top = (box.t - m.t) + 'px';
  return c;
}

const zeroLine = pts => ({
  type: 'scatter', data: pts, showLine: true, pointRadius: 0, borderColor: '#808080', borderWidth: 1.6,
  borderDash: [6, 3], order: 0, clip: false,
});

function scatterPanel(id, box, pts) {
  const m = { l: 40, r: 16, t: 8, b: 20 };
  new Chart(place(id, box, m), {
    type: 'scatter',
    data: {
      datasets: [
        zeroLine(zeroSpan.map(x => ({ x, y: 0 }))),
        zeroLine(zeroSpan.map(y => ({ x: 0, y }))),
        {
          data: pts, order: 1, clip: 0, pointRadius: 5.4,
          backgroundColor: ctx => viridis(ctx.raw.c),
          borderColor: 'rgba(50,50,70,0.65)', borderWidth: 0.7,
        },
      ],
    },
    options: {
      responsive: false, animation: false,
      layout: { padding: { left: 0, right: m.r, top: m.t, bottom: 0 } },
      plugins: { legend: { display: false }, tooltip: { enabled: false } },
      scales: {
        x: axis(-10, 10, scatterTicks, 10.5, { h: m.b }),
        y: axis(-10, 10, scatterTicks, 10.5, { w: m.l }),
      },
    },
  });
}

function linePanel(id, box, m, cfg) {
  const datasets = [];
  if (cfg.stop) {
    datasets.push({ data: cfg.stop.map(([x, y]) => ({ x, y })), borderColor: '#000', borderWidth: 2, borderDash: [6, 3], pointRadius: 0, order: 0, clip: false });
  }
  if (cfg.level !== undefined) {
    datasets.push({ data: [0, 20100].map(x => ({ x, y: cfg.level })), borderColor: '#000', borderWidth: 2, pointRadius: 0, order: 0 });
  }
  datasets.push({ data: cfg.iters.map((x, i) => ({ x, y: cfg.vals[i] })), borderColor: LINE_BLUE, borderWidth: 2, pointRadius: 0, order: 1, clip: 0 });
  new Chart(place(id, box, m), {
    type: 'scatter',
    data: { datasets: datasets.map(d => ({ showLine: true, ...d })) },
    options: {
      responsive: false, animation: false,
      layout: { padding: { left: 0, right: m.r, top: m.t, bottom: 0 } },
      plugins: { legend: { display: false }, tooltip: { enabled: false } },
      scales: {
        x: axis(cfg.x[0], cfg.x[1], cfg.xTicks, cfg.font, { h: m.b }, { text: 'iterations', size: cfg.titleSize }),
        y: axis(cfg.y[0], cfg.y[1], cfg.yTicks, cfg.font, { w: m.l }),
      },
    },
  });
}

// ===================== CHARTS =====================
scatterPanel('s12', { l: 457, r: 615, t: 37, b: 192 }, ptsA2A1);
scatterPanel('s13', { l: 647, r: 805, t: 37, b: 192 }, ptsA3A1);
scatterPanel('s14', { l: 837, r: 996, t: 37, b: 192 }, ptsA4A1);
scatterPanel('s32', { l: 647, r: 805, t: 223, b: 377 }, ptsA3A2);
scatterPanel('s42', { l: 837, r: 996, t: 223, b: 377 }, ptsA4A2);
scatterPanel('s43', { l: 837, r: 996, t: 408, b: 562 }, ptsA4A3);

// colorbar: one floating bar with a viridis gradient
new Chart(place('cbar', { l: 1010, r: 1038, t: 57, b: 544 }, { l: 0, r: 64, t: 22, b: 22 }), {
  type: 'bar',
  data: {
    labels: ['log q'],
    datasets: [{
      data: [cbarRange],
      categoryPercentage: 1, barPercentage: 1,
      borderColor: '#444', borderWidth: 1, borderSkipped: false,
      backgroundColor: ctx => {
        const a = ctx.chart.chartArea;
        if (!a) return viridisStops[0];
        const g = ctx.chart.ctx.createLinearGradient(0, a.bottom, 0, a.top);
        viridisStops.forEach((c, i) => g.addColorStop(i / (viridisStops.length - 1), c));
        return g;
      },
    }],
  },
  options: {
    responsive: false, animation: false,
    layout: { padding: { top: 22, bottom: 22, left: 0, right: 0 } },
    plugins: { legend: { display: false }, tooltip: { enabled: false } },
    scales: {
      x: { display: false },
      y: {
        type: 'linear', position: 'right', min: cbarRange[0], max: cbarRange[1],
        afterBuildTicks: s => { s.ticks = cbarTicks.map(value => ({ value })); },
        afterFit: s => { s.width = 64; },
        border: { display: true, color: '#444' },
        grid: { drawOnChartArea: false, drawTicks: true, tickLength: 4, tickColor: '#444' },
        ticks: {
          autoSkip: false, padding: 4, color: '#000', font: { family: "'DejaVu Sans'", size: 21.5 },
          callback: v => fmtTick(v.toFixed(1)),
        },
      },
    },
  },
});

linePanel('entropy', { l: 79, r: 605, t: 301, b: 534 }, { l: 30, r: 20, t: 8, b: 43 }, {
  iters: entropyIters, vals: entropyVals, stop: entropyStop,
  x: [-986, 20986], y: [5.4, 12.1], xTicks: entropyTicksX, yTicks: entropyTicksY, font: 12, titleSize: 16,
});

const dMargin = { l: 30, r: 18, t: 6, b: 40 };
linePanel('d1', { l: 68, r: 265, t: 637, b: 848 }, dMargin, {
  iters: realIters, vals: realVals, level: 0.02, stop: [[18000, 3], [18000, -3]],
  x: [-959, 21037], y: [-3, 3], xTicks: dTicksX, yTicks: [-3, -2, -1, 0, 1, 2, 3], font: 11, titleSize: 15,
});
linePanel('d2', { l: 338, r: 536, t: 637, b: 848 }, dMargin, {
  iters: imagIters, vals: imagVals, level: 6.28, stop: [[18000, 9.3], [18000, 3.28]],
  x: [-1050, 21050], y: [3.28, 9.3], xTicks: dTicksX, yTicks: [4, 5, 6, 7, 8, 9], font: 11, titleSize: 15,
});
linePanel('d3', { l: 609, r: 807, t: 637, b: 848 }, dMargin, {
  iters: realVarIters, vals: realVarVals, level: 0.07, stop: [[18000, 3.07], [18000, -2.92]],
  x: [-1050, 21050], y: [-2.92, 3.07], xTicks: dTicksX, yTicks: [-2, -1, 0, 1, 2, 3], font: 11, titleSize: 15,
});
linePanel('d4', { l: 880, r: 1078, t: 637, b: 848 }, dMargin, {
  iters: imagVarIters, vals: imagVarVals, level: 0.39, stop: [[18000, 3.42], [18000, -2.62]],
  x: [-1050, 21050], y: [-2.62, 3.42], xTicks: dTicksX, yTicks: [-2, -1, 0, 1, 2, 3], font: 11, titleSize: 15,
});
</script>
</body>
</html>
